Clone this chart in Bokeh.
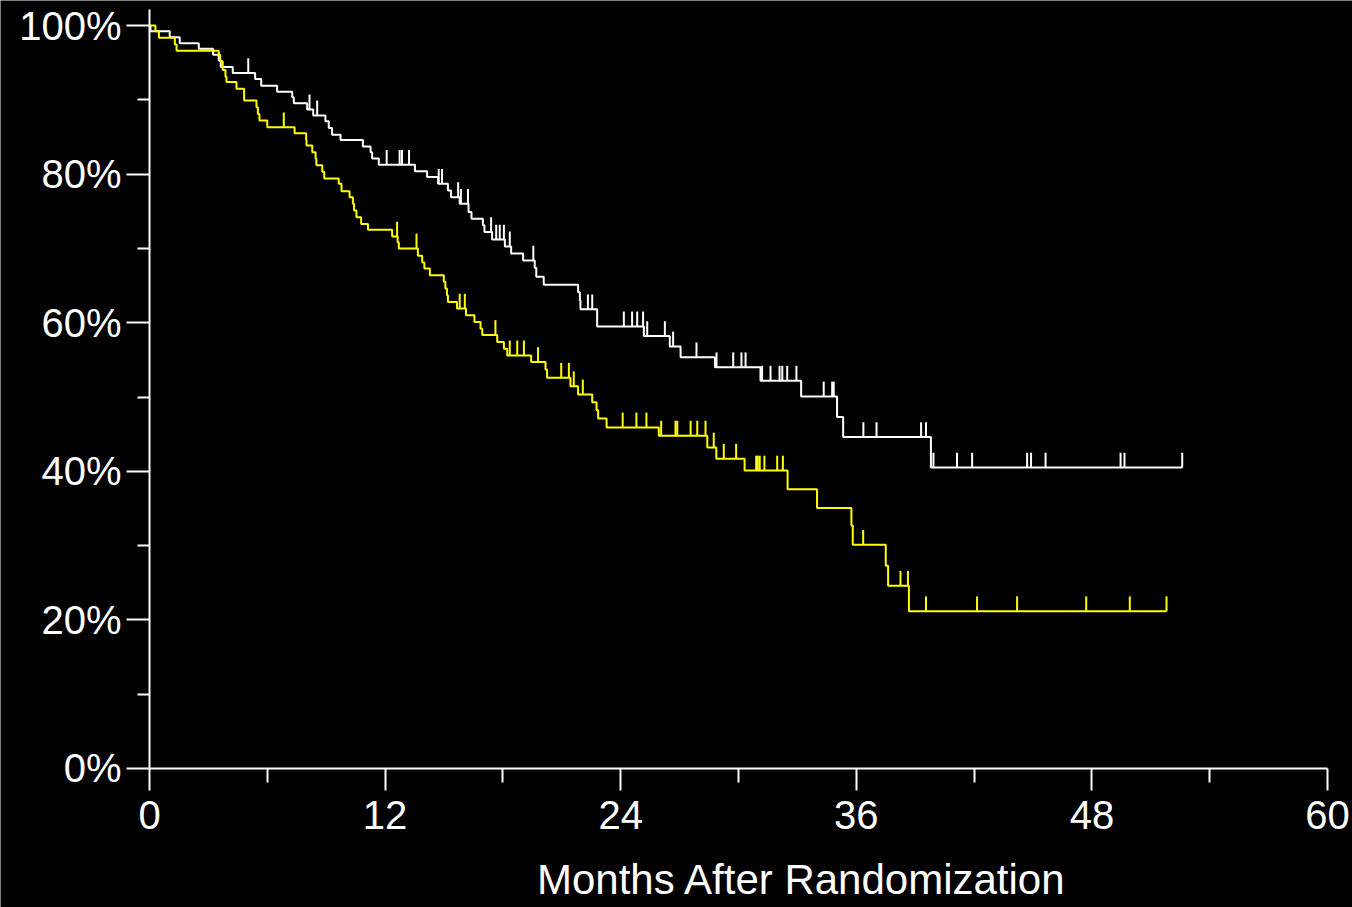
import numpy as np
from bokeh.plotting import figure
from bokeh.models import FixedTicker, Label
from bokeh.embed import file_html
from bokeh.resources import INLINE

# ---------------- data ----------------
# White arm: event times (months) and survival (%) after each step
white_t = [0.05, 1.03, 1.54, 2.51, 3.24, 3.53, 3.63, 4.24, 5.38, 5.69, 6.5, 7.27, 7.35,
           8.03, 8.34, 8.96, 9.13, 9.3, 9.73, 10.87, 11.26, 11.34, 11.68, 13.52, 14.14,
           14.7, 15.2, 15.36, 15.8, 16.25, 16.4, 16.98, 17.06, 17.45, 18.1, 18.42, 19.03,
           19.62, 19.7, 20.08, 21.83, 21.92, 21.95, 22.8, 25.18, 26.5, 27.05, 28.8, 31.12,
           33.19, 35.02, 35.33, 39.8]
white_s = [99.24, 98.43, 97.62, 96.86, 96.05, 95.3, 94.4, 93.6, 92.8, 91.9, 91.1, 90.35, 89.55,
           88.7, 87.9, 87.1, 86.2, 85.3, 84.6, 83.7, 82.95, 82.1, 81.25, 80.4, 79.6,
           78.7, 77.8, 76.9, 76.0, 74.9, 73.98, 73.1, 72.2, 71.2, 70.26, 69.3, 68.37,
           67.4, 66.2, 65.1, 64.1, 63.0, 61.8, 59.5, 58.2, 56.8, 55.35, 54.0, 52.2,
           50.07, 47.3, 44.6, 40.5]
white_end = 52.6
white_censor = [5.03, 8.15, 8.54, 12.08, 12.74, 12.86, 13.22, 14.73, 14.9, 15.72, 15.86, 16.22,
                17.4, 17.66, 17.84, 18.05, 18.35, 19.55, 22.33, 22.55, 24.16, 24.58, 24.84,
                25.14, 25.35, 26.25, 26.67, 27.86, 28.88, 29.73, 30.15, 30.36, 31.2, 31.63,
                32.09, 32.23, 32.48, 32.95, 34.34, 34.77, 34.85, 36.36, 37.03, 39.3, 39.55,
                39.93, 41.13, 41.9, 44.7, 44.9, 45.64, 49.46, 49.66, 52.6]

# Yellow arm
yellow_t = [0.3, 0.48, 1.29, 1.38, 3.53, 3.6, 3.73, 3.87, 3.92, 4.43, 4.82, 5.45, 5.52, 5.6,
            6.0, 7.39, 7.98, 8.0, 8.29, 8.46, 8.5, 8.8, 8.9, 9.64, 9.78, 10.19, 10.36, 10.42,
            10.54, 10.78, 11.13, 12.36, 12.64, 12.7, 13.67, 13.89, 14.0, 14.28, 14.99, 15.07,
            15.15, 15.2, 15.66, 16.12, 16.55, 16.86, 16.95, 17.71, 18.05, 18.22, 19.44, 20.17,
            20.25, 21.44, 21.83, 22.55, 22.77, 22.85, 23.28, 25.94, 28.41, 28.87, 30.31, 32.5,
            34.0, 35.75, 35.82, 37.5, 37.62, 38.68]
yellow_s = [99.24, 98.35, 97.45, 96.6, 96.05, 95.2, 94.0, 93.1, 92.4, 91.5, 89.9, 89.0, 88.1, 87.2,
            86.3, 85.5, 84.6, 83.85, 82.95, 82.05, 81.2, 80.3, 79.4, 78.7, 77.7, 76.9, 76.0, 75.1,
            74.2, 73.3, 72.5, 71.6, 70.8, 70.0, 69.0, 68.1, 67.3, 66.4, 65.5, 64.6,
            63.7, 62.8, 61.9, 61.0, 60.1, 59.2, 58.35, 57.4, 56.5, 55.6, 54.7, 53.7,
            52.6, 51.45, 50.35, 49.3, 48.2, 47.1, 45.9, 44.8, 43.2, 41.7, 40.1, 37.6,
            35.06, 32.7, 30.1, 27.3, 24.6, 21.17]
yellow_end = 51.8
yellow_censor = [6.84, 12.61, 13.6, 15.8, 16.06, 17.62, 18.35, 18.73, 19.07, 19.79, 20.97, 21.36,
                 21.61, 22.07, 24.1, 24.8, 25.31, 26.06, 26.79, 26.88, 27.56, 27.9, 28.32, 28.74,
                 29.25, 29.88, 30.9, 30.98, 31.08, 31.32, 31.97, 32.26, 36.35, 38.25, 38.63,
                 39.55, 42.15, 44.19, 47.71, 49.93, 51.8]

x_ticks = [0, 12, 24, 36, 48, 60]
x_minor = [6, 18, 30, 42, 54]
y_ticks = [0, 20, 40, 60, 80, 100]
y_minor = [10, 30, 50, 70, 90]
y_labels = ["0%", "20%", "40%", "60%", "80%", "100%"]
x_title = "Months After Randomization"

FONT = "Liberation Sans"
TICK_LEN = 2.0          # censor tick height in % units
# the frame fills the whole canvas; axes are pinned at 0 and limited by bounds
X_RANGE = (-7.589, 61.273)
Y_RANGE = (-18.708, 103.365)
Y_AXIS_TOP = 102.15

p = figure(width=1352, height=907, x_range=X_RANGE, y_range=Y_RANGE,
           output_backend="svg", toolbar_location=None,
           min_border_left=0, min_border_right=0, min_border_top=0, min_border_bottom=0)
p.background_fill_color = "black"
p.border_fill_color = "black"
p.outline_line_color = None
p.xgrid.visible = False
p.ygrid.visible = False


def draw_arm(times, surv, end, censor, color):
    xs = [0.0] + list(times) + [end]
    ys = [100.0] + list(surv) + [surv[-1]]
    p.step(xs, ys, mode="after", line_color=color, line_width=2)
    t_arr = np.array(times)
    s_arr = np.array([100.0] + list(surv))
    idx = np.searchsorted(t_arr, np.array(censor), side="right")
    cy = s_arr[idx]
    p.segment(x0=censor, y0=cy, x1=censor, y1=cy + TICK_LEN, line_color=color, line_width=2)


draw_arm(white_t, white_s, white_end, white_censor, "#FFFFFF")
draw_arm(yellow_t, yellow_s, yellow_end, yellow_censor, "#FFFF00")

for ax, ticks, minor in ((p.xaxis[0], x_ticks, x_minor), (p.yaxis[0], y_ticks, y_minor)):
    ax.ticker = FixedTicker(ticks=ticks, minor_ticks=minor)
    ax.fixed_location = 0
    ax.axis_line_color = "white"
    ax.axis_line_width = 2
    ax.major_tick_line_color = "white"
    ax.major_tick_line_width = 2
    ax.minor_tick_line_color = "white"
    ax.minor_tick_line_width = 2
    ax.major_tick_in = 0
    ax.minor_tick_in = 0
    ax.major_label_text_color = "white"
    ax.major_label_text_font = FONT
    ax.major_label_text_font_size = "40px"

p.xaxis.bounds = (0, 60)
p.xaxis.major_tick_out = 22
p.xaxis.minor_tick_out = 14
p.xaxis.major_label_standoff = 11
p.yaxis.bounds = (0, Y_AXIS_TOP)
p.yaxis.major_tick_out = 23
p.yaxis.minor_tick_out = 12
p.yaxis.major_label_standoff = 5
p.yaxis.major_label_overrides = {t: l for t, l in zip(y_ticks, y_labels)}

title = Label(x=33.23, y=-14.9, text=x_title, text_color="white", text_font=FONT,
              text_font_size="42px", text_align="center", text_baseline="alphabetic")
p.add_layout(title)

html = file_html(p, INLINE)
html = html.replace("<body>", '<body style="margin:0;background:#000000;">', 1)
open("out.html", "w").write(html)
